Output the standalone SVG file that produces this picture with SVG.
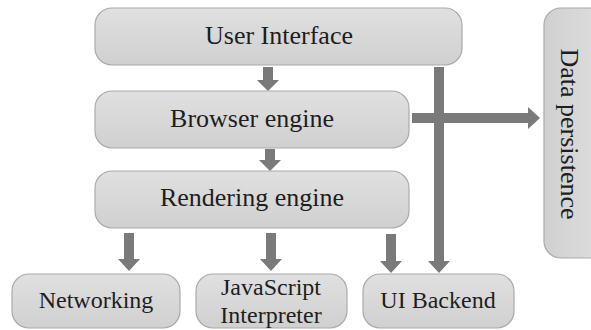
<svg xmlns="http://www.w3.org/2000/svg" width="591" height="330" viewBox="0 0 591 330">
<defs>
<linearGradient id="g" x1="0" y1="0" x2="0" y2="1">
<stop offset="0" stop-color="#e0e0e0"/>
<stop offset="1" stop-color="#d0d0d0"/>
</linearGradient>
<linearGradient id="gh" x1="0" y1="0" x2="1" y2="0">
<stop offset="0" stop-color="#d0d0d0"/>
<stop offset="1" stop-color="#e0e0e0"/>
</linearGradient>
</defs>
<style>
.box{fill:url(#g);stroke:#aaaaaa;stroke-width:1.2}
.t{font-family:"Liberation Serif",serif;font-size:26px;fill:#1e1e1e;text-anchor:middle}
.s{font-size:24px}
.a{fill:#7a7a7a}
</style>
<rect width="591" height="330" fill="#fff"/>
<g id="connectors">
<path class="a" d="M263,67 H273 V80 H279 L268,91 L257,80 H263 Z"/>
<path class="a" d="M265,149 H275 V160 H281 L270,171 L259,160 H265 Z"/>
<path class="a" d="M124,233 H134 V259 H140 L129,271 L118,259 H124 Z"/>
<path class="a" d="M266,233 H276 V259 H282 L271,271 L260,259 H266 Z"/>
<path class="a" d="M386,234 H396 V261 H402 L391,273 L380,261 H386 Z"/>
<path class="a" d="M434,67 H444 V261 H450 L439,273 L428,261 H434 Z"/>
<path class="a" d="M412,113 H528 V107 L540,118 L528,129 V123 H412 Z"/>
</g>
<g id="user-interface">
<rect class="box" x="95" y="8" width="367" height="57" rx="17"/>
<text class="t" x="279" y="44">User Interface</text>
</g>
<g id="browser-engine">
<rect class="box" x="95" y="91" width="314" height="57" rx="17"/>
<text class="t" x="252" y="127">Browser engine</text>
</g>
<g id="rendering-engine">
<rect class="box" x="95" y="171" width="314" height="57" rx="17"/>
<text class="t" x="252" y="206">Rendering engine</text>
</g>
<g id="networking">
<rect class="box" x="12" y="274" width="168" height="54" rx="17"/>
<text class="t s" x="96" y="308">Networking</text>
</g>
<g id="javascript-interpreter">
<rect class="box" x="196" y="274" width="151" height="54" rx="17"/>
<text class="t s" x="271" y="295">JavaScript</text>
<text class="t s" x="271" y="323">Interpreter</text>
</g>
<g id="ui-backend">
<rect class="box" x="363" y="274" width="151" height="54" rx="17"/>
<text class="t s" x="438" y="308">UI Backend</text>
</g>
<g id="data-persistence">
<rect class="box" x="544" y="8" width="70" height="250" rx="17" style="fill:url(#gh)"/>
<text class="t" transform="translate(561,134) rotate(90)">Data persistence</text>
</g>
</svg>
